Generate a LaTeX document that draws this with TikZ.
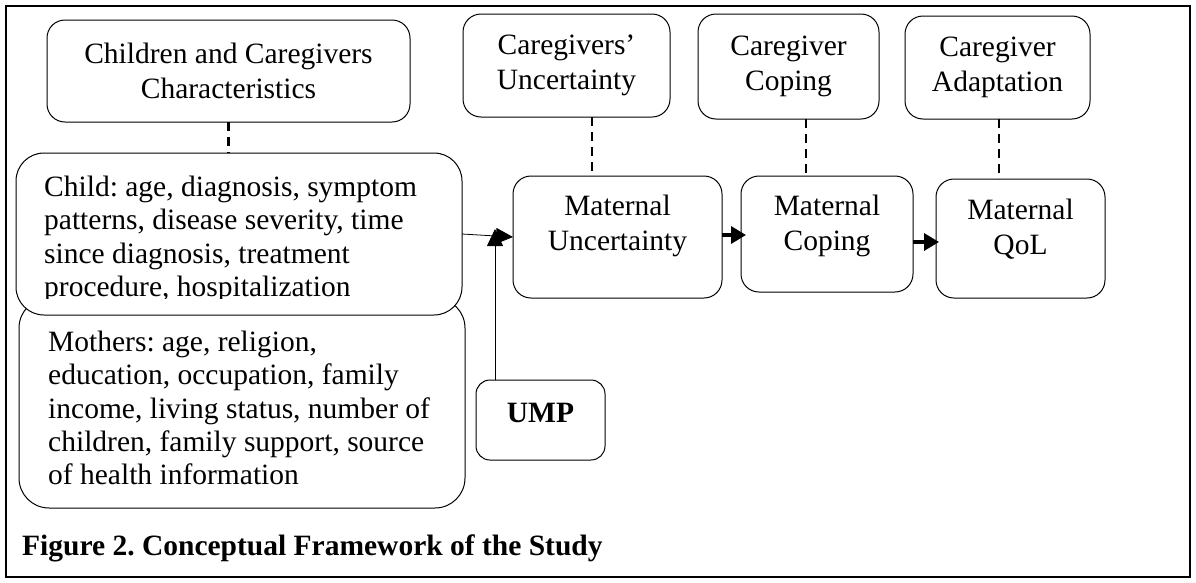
\documentclass[tikz,border=0pt]{standalone}
\usepackage{fontspec}
\setmainfont{Liberation Serif}
\usetikzlibrary{arrows.meta,calc}
\frenchspacing
\begin{document}
\begin{tikzpicture}[x=1pt,y=-1pt,
  box/.style={draw, line width=1pt, rounded corners=18pt, fill=white, inner sep=0pt, outer sep=0pt},
  bigbox/.style={box, rounded corners=28pt},
  txt/.style={font=\fontsize{29.5}{35}\selectfont, align=center, inner sep=0pt},
  ltxt/.style={font=\fontsize{29.5}{33.2}\selectfont, align=left, inner sep=0pt, anchor=north west},
  dashlink/.style={line width=2.6pt, dash pattern=on 9pt off 6pt},
  thinarr/.style={line width=0.8pt, -{Triangle[length=17pt,width=16pt]}},
  thickarr/.style={line width=3.4pt, -{Triangle[length=15pt,width=17pt]}}]
\useasboundingbox (0,0) rectangle (1196,582);
\draw[line width=2.5pt] (6,6) rectangle (1190,577);

% top row
\node[box, minimum width=363pt, minimum height=102pt] (cc) at (228.5,71) {};
\node[txt] at (cc.center) {Children and Caregivers\\Characteristics};
\node[box, minimum width=207pt, minimum height=103pt] (cu) at (566.5,65.5) {};
\node[txt] at (cu.center) {Caregivers’\\Uncertainty};
\node[box, minimum width=181pt, minimum height=105pt] (cco) at (788.5,66.5) {};
\node[txt] at (cco.center) {Caregiver\\Coping};
\node[box, minimum width=185pt, minimum height=103pt] (ca) at (997.5,67.5) {};
\node[txt] at (ca.center) {Caregiver\\Adaptation};

% left boxes
\node[bigbox, rounded corners=30pt, minimum width=446pt, minimum height=210pt] (moth) at (242,403) {};
\node[ltxt] at (48,331) {Mothers: age, religion,\\education, occupation, family\\income, living status, number of\\children, family support, source\\of health information};
\node[bigbox, minimum width=446pt, minimum height=162pt] (child) at (239,234) {};
\begin{scope}
\clip (16,153) rectangle (462,298);
\node[ltxt] at (44,176) {Child: age, diagnosis, symptom\\patterns, disease severity, time\\since diagnosis, treatment\\procedure, hospitalization};
\end{scope}

% maternal row
\node[box, minimum width=209pt, minimum height=122pt] (mu) at (617.5,237) {};
\node[txt] at (617.5,226) {Maternal\\Uncertainty};
\node[box, minimum width=172pt, minimum height=116pt] (mc) at (827,234) {};
\node[txt] at (827,226) {Maternal\\Coping};
\node[box, minimum width=169pt, minimum height=119pt] (mq) at (1020.5,238.5) {};
\node[txt] at (1020.5,229) {Maternal\\QoL};

% UMP
\node[box, rounded corners=14pt, minimum width=129pt, minimum height=80pt] (ump) at (540.5,420) {};
\node[txt, font=\fontsize{29.5}{35}\selectfont\bfseries] at (540.5,413) {UMP};

% dashed links
\draw[dashlink] (cc.south) -- (child.north -| cc.south);
\draw[dashlink] (cu.south -| 592,0) -- (mu.north -| 592,0);
\draw[dashlink] (cco.south -| 806,0) -- (mc.north -| 806,0);
\draw[dashlink] (ca.south -| 999,0) -- (mq.north -| 999,0);

% arrows
\coordinate (j) at (495,229);
\draw[thinarr] (child.east) -- (mu.west);
\draw[thinarr] (ump.north -| 495,0) -- (j);
\draw[thickarr] (mu.east |- 0,235) -- ($(mc.west |- 0,235)+(5,0)$);
\draw[thickarr] (mc.east |- 0,242) -- ($(mq.west |- 0,242)+(3,0)$);

% caption
\node[font=\fontsize{29.5}{33}\selectfont\bfseries, anchor=west, inner sep=0pt] at (22,548) {Figure 2. Conceptual Framework of the Study};
\end{tikzpicture}
\end{document}
